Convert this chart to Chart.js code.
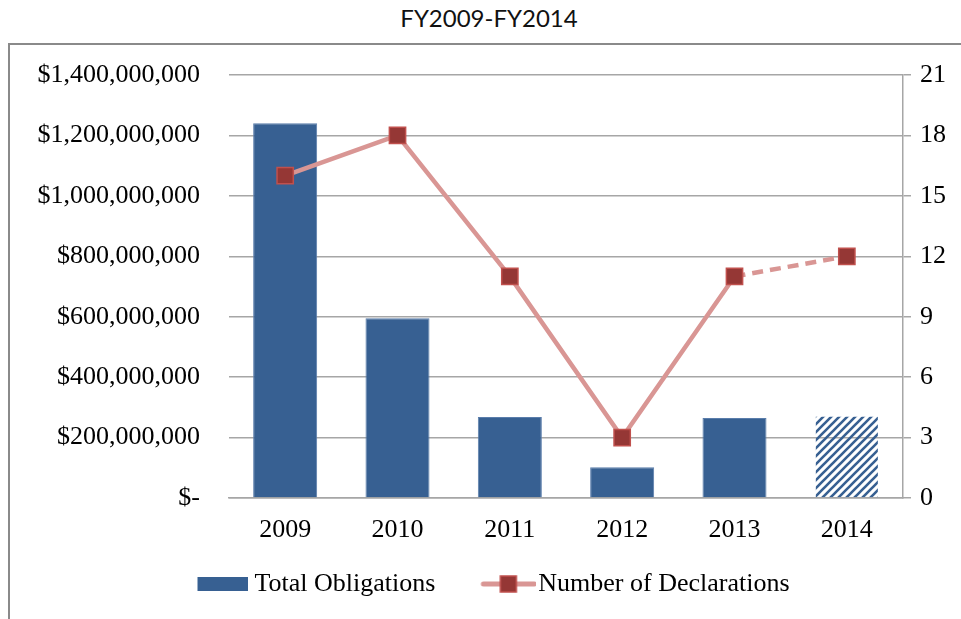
<!DOCTYPE html>
<html>
<head>
<meta charset="utf-8">
<script src="https://cdn.jsdelivr.net/npm/chart.js@4.4.1/dist/chart.umd.min.js"></script>
<style>
  html, body { margin: 0; padding: 0; background: #fff; overflow: hidden; }
  #title {
    position: absolute; left: 0; top: 3px; width: 978px; text-align: center;
    font-family: Lato, "Open Sans", sans-serif; font-size: 24px; color: #111;
  }
  #frame {
    position: absolute; left: 8px; top: 43px; width: 1000px; height: 700px;
    border: 2px solid #8a8a8a;
  }
  #chart { position: absolute; left: 0; top: 0; }
</style>
</head>
<body>
<div id="title">FY2009-FY2014</div>
<div id="frame"></div>
<canvas id="chart" width="961" height="619"></canvas>
<script>
const years = ['2009', '2010', '2011', '2012', '2013', '2014'];
const obligations = [1240000000, 595000000, 268000000, 102000000, 265000000, 272000000];
const declarations = [16, 18, 11, 3, 11, 12];
const leftTicks = [0, 200000000, 400000000, 600000000, 800000000, 1000000000, 1200000000, 1400000000];
const rightTicks = [0, 3, 6, 9, 12, 15, 18, 21];

const BLUE = '#376092';
const LINE = '#d99694';
const MARKER = '#953735';
const MARKER_EDGE = '#c0504d';
const GRID = '#a6a6a6';
const FONT = { family: '"Liberation Serif", "Times New Roman", serif', size: 26 };

// hatch pattern for the partial year
function makeHatch() {
    const c = document.createElement('canvas');
    c.width = 8; c.height = 8;
    const g = c.getContext('2d');
    g.strokeStyle = BLUE;
    g.lineWidth = 2.6;
    g.beginPath();
    g.moveTo(-2, 10); g.lineTo(10, -2);
    g.moveTo(-2, 2); g.lineTo(2, -2);
    g.moveTo(6, 10); g.lineTo(10, 6);
    g.stroke();
    return document.getElementById('chart').getContext('2d').createPattern(c, 'repeat');
}
const hatch = makeHatch();

// legend symbols
const BOX_W = 60;
function legendImage(gap, draw) {
    const w = BOX_W + FONT.size - 2 * gap;
    const c = document.createElement('canvas');
    c.width = w; c.height = 24;
    draw(c.getContext('2d'), w);
    return c;
}
const barSymbol = legendImage(6, (g, w) => {
    g.fillStyle = BLUE;
    g.fillRect(w - 51, 5, 51, 14);
});
const lineSymbol = legendImage(2, (g, w) => {
    g.strokeStyle = LINE;
    g.lineWidth = 5;
    g.lineCap = 'round';
    g.beginPath(); g.moveTo(w - 53, 12); g.lineTo(w - 2, 12); g.stroke();
    g.fillStyle = MARKER;
    g.strokeStyle = MARKER_EDGE;
    g.lineWidth = 1.5;
    g.fillRect(w - 36, 4, 16, 16);
    g.strokeRect(w - 36, 4, 16, 16);
});

new Chart(document.getElementById('chart'), {
    data: {
        labels: years,
        datasets: [{
            type: 'bar',
            label: 'Total Obligations',
            data: obligations,
            yAxisID: 'y',
            backgroundColor: years.map((y, i) => i === years.length - 1 ? hatch : BLUE),
            borderColor: years.map((y, i) => i === years.length - 1 ? 'rgba(0,0,0,0)' : '#5a7dab'),
            borderWidth: 1,
            barPercentage: 0.57,
            categoryPercentage: 1,
            order: 2
        }, {
            type: 'line',
            label: 'Number of Declarations',
            data: declarations,
            yAxisID: 'y1',
            borderColor: LINE,
            borderWidth: 4.5,
            pointStyle: 'rect',
            pointRadius: 11.5,
            pointBackgroundColor: MARKER,
            pointBorderColor: MARKER_EDGE,
            pointBorderWidth: 1.5,
            tension: 0,
            segment: {
                borderDash: ctx => ctx.p0DataIndex === 4 ? [11, 7] : undefined
            },
            order: 1
        }]
    },
    options: {
        responsive: false,
        animation: false,
        layout: { padding: { top: 75, left: 10, right: 0, bottom: 12 } },
        plugins: {
            title: { display: false },
            tooltip: { enabled: false },
            legend: {
                position: 'bottom',
                labels: {
                    font: FONT,
                    color: '#000',
                    usePointStyle: true,
                    pointStyleWidth: BOX_W,
                    padding: 30,
                    generateLabels: chart => chart.data.datasets.map((ds, i) => ({
                        text: ds.label,
                        datasetIndex: i,
                        pointStyle: i === 0 ? barSymbol : lineSymbol,
                        fontColor: '#000',
                        lineWidth: 0,
                        hidden: false
                    }))
                }
            }
        },
        scales: {
            x: {
                offset: true,
                grid: { drawOnChartArea: false, drawTicks: false },
                border: { color: GRID, width: 1.5 },
                ticks: { font: FONT, color: '#000', padding: 17 },
                afterFit: s => { s.height = 43; }
            },
            y: {
                position: 'left',
                min: 0,
                max: 1400000000,
                afterBuildTicks: s => { s.ticks = leftTicks.map(v => ({ value: v })); },
                grid: { color: GRID, lineWidth: 1.5, drawTicks: false },
                border: { display: false },
                ticks: {
                    font: FONT, color: '#000', padding: 29,
                    callback: v => v === 0 ? '$-' : '$' + v.toLocaleString('en-US')
                },
                afterFit: s => { s.width = 219; }
            },
            y1: {
                position: 'right',
                min: 0,
                max: 21,
                afterBuildTicks: s => { s.ticks = rightTicks.map(v => ({ value: v })); },
                grid: { drawOnChartArea: false, color: GRID, lineWidth: 1.5, tickLength: 8 },
                border: { color: GRID, width: 1.5 },
                ticks: { font: FONT, color: '#000', padding: 9 },
                afterFit: s => { s.width = 58; }
            }
        }
    }
});
</script>
</body>
</html>
